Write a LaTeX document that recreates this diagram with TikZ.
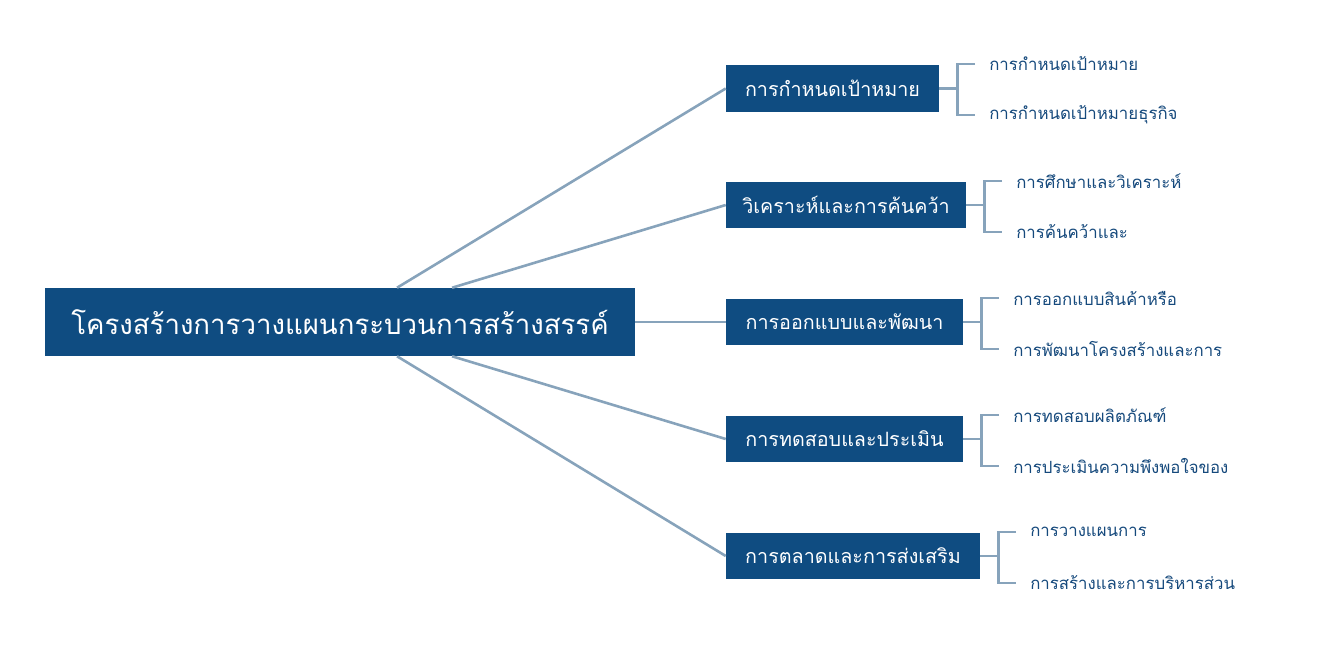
\documentclass[tikz,border=0pt]{standalone}
\usepackage{fontspec}
\setmainfont[Script=Thai]{Loma}
\usetikzlibrary{calc}
\definecolor{boxblue}{HTML}{0F4C81}
\definecolor{linegray}{HTML}{87A3BB}
\definecolor{childblue}{HTML}{15497C}
\tikzset{
  rootbox/.style={fill=boxblue, text=white, minimum width=590*0.75pt, minimum height=68*0.75pt, inner sep=0pt, font=\fontsize{20.7}{24}\selectfont},
  branchbox/.style={fill=boxblue, text=white, minimum height=46*0.75pt, inner sep=0pt, font=\fontsize{14.8}{17}\selectfont},
  childtext/.style={anchor=west, text=childblue, inner sep=0pt, font=\fontsize{12.6}{15}\selectfont},
  conn/.style={draw=linegray, line width=2.6pt*0.75},
}
\begin{document}
\begin{tikzpicture}[x=0.75pt,y=-0.75pt]
\useasboundingbox (0,0) rectangle (1330,660);
\node[rootbox] (root) at (340,322) {โครงสร้างการวางแผนกระบวนการสร้างสรรค์};
\node[branchbox, minimum width=213*0.75pt] (b1) at (832.5,88.5) {การกำหนดเป้าหมาย};
\node[branchbox, minimum width=240*0.75pt] (b2) at (846,205) {วิเคราะห์และการค้นคว้า};
\node[branchbox, minimum width=237*0.75pt] (b3) at (844.5,322) {การออกแบบและพัฒนา};
\node[branchbox, minimum width=237*0.75pt] (b4) at (844.5,439) {การทดสอบและประเมิน};
\node[branchbox, minimum width=254*0.75pt] (b5) at (853,556) {การตลาดและการส่งเสริม};
% children
\node[childtext] (c11) at (989,64) {การกำหนดเป้าหมาย};
\node[childtext] (c12) at (989,115) {การกำหนดเป้าหมายธุรกิจ};
\node[childtext] (c21) at (1016,181) {การศึกษาและวิเคราะห์};
\node[childtext] (c22) at (1016,232) {การค้นคว้าและ};
\node[childtext] (c31) at (1013,298) {การออกแบบสินค้าหรือ};
\node[childtext] (c32) at (1013,349) {การพัฒนาโครงสร้างและการ};
\node[childtext] (c41) at (1013,415) {การทดสอบผลิตภัณฑ์};
\node[childtext] (c42) at (1013,466) {การประเมินความพึงพอใจของ};
\node[childtext] (c51) at (1030,532) {การวางแผนการ};
\node[childtext] (c52) at (1030,583) {การสร้างและการบริหารส่วน};
% root connectors
\draw[conn] ($(root.north west)!0.5966!(root.north east)$) -- (b1.west);
\draw[conn] ($(root.north west)!0.6898!(root.north east)$) -- (b2.west);
\draw[conn] (root.east) -- (b3.west);
\draw[conn] ($(root.south west)!0.6898!(root.south east)$) -- (b4.west);
\draw[conn] ($(root.south west)!0.5966!(root.south east)$) -- (b5.west);
% brackets
\foreach \b/\cA/\cB in {b1/c11/c12, b2/c21/c22, b3/c31/c32, b4/c41/c42, b5/c51/c52}{
  \coordinate (\b v) at ($(\b.east)+(18,0)$);
  \draw[conn] (\b.east) -- (\b v);
  \draw[conn] ($(\cA.west)+(-14,0)$) -| (\b v) |- ($(\cB.west)+(-14,0)$);
}
\end{tikzpicture}
\end{document}
